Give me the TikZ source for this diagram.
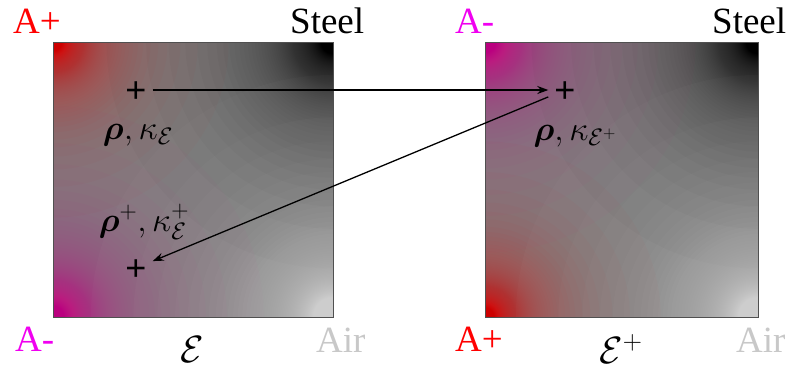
\RequirePackage{fix-cm}
\documentclass[tikz,border=0pt]{standalone}
\usepackage{amsmath,bm}
\usepackage{fontspec}
\setmainfont{Liberation Serif}
\newfontfamily\plusfont{Liberation Sans}
\usetikzlibrary{arrows.meta}

\definecolor{basegray}{RGB}{127,127,127}
\definecolor{edgegray}{RGB}{80,80,80}
\definecolor{labred}{RGB}{255,0,0}
\definecolor{labmag}{RGB}{240,0,240}
\definecolor{airgray}{RGB}{200,200,200}

% #1 corner point, #2 colour, #3 decay length (pt)
\newcommand\cornerglow[3]{%
  \foreach \k in {1,...,150}{%
    \pgfmathsetmacro\rr{-#3*ln(1-pow(0.98,\k))}%
    \fill[#2, fill opacity=0.02] #1 circle (\rr pt);
  }%
}

\tikzset{
  lab/.style={inner sep=0pt, anchor=base west, font=\fontsize{37}{40}\selectfont},
  mathlab/.style={inner sep=0pt, font=\fontsize{34}{36}\selectfont},
  setlab/.style={inner sep=0pt, font=\fontsize{38}{40}\selectfont},
  plusmark/.style={inner sep=6pt, text height=9pt, text depth=9pt, font=\plusfont\fontsize{36}{36}\selectfont},
  arr/.style={-{Stealth[length=11pt,width=8pt]}, line width=1.3pt},
  boxline/.style={draw=edgegray, line width=1pt}
}

\begin{document}
\begin{tikzpicture}[x=1pt,y=-1pt]
\useasboundingbox (0,0) rectangle (791,368);

% left square
\begin{scope}
  \clip (53,42) rectangle (333,317);
  \fill[basegray] (53,42) rectangle (333,317);
  \cornerglow{(53,42)}{labred}{45}
  \cornerglow{(53,317)}{magenta}{54}
  \cornerglow{(333,42)}{black}{58}
  \cornerglow{(333,317)}{white}{62}
\end{scope}
\draw[boxline] (53,42) rectangle (333,317);

% right square
\begin{scope}
  \clip (485,42) rectangle (758,317);
  \fill[basegray] (485,42) rectangle (758,317);
  \cornerglow{(485,42)}{magenta}{54}
  \cornerglow{(485,317)}{labred}{45}
  \cornerglow{(758,42)}{black}{58}
  \cornerglow{(758,317)}{white}{62}
\end{scope}
\draw[boxline] (485,42) rectangle (758,317);

% labels
\node[lab, text=labred] (ap1) at (13,33) {A+};
\node[lab] (st1) at (290,33) {Steel};
\node[lab, text=labmag] (am1) at (15,351) {A-};
\node[lab, text=airgray] (air1) at (316,352) {Air};
\node[setlab] (e1) at (192,350) {$\mathcal{E}$};

\node[lab, text=labmag] (am2) at (455,33) {A-};
\node[lab] (st2) at (712,33) {Steel};
\node[lab, text=labred] (ap2) at (455,351) {A+};
\node[lab, text=airgray] (air2) at (736,352) {Air};
\node[setlab] (e2) at (621,349) {$\mathcal{E}^{+}$};

% math labels
\node[mathlab] (l1) at (138,135) {$\bm{\rho},\kappa_{\mathcal{E}}$};
\node[mathlab] (l2) at (144,222) {$\bm{\rho}^{+},\kappa_{\mathcal{E}}^{+}$};
\node[mathlab] (l3) at (575,136) {$\bm{\rho},\kappa_{\mathcal{E}^{+}}$};

% markers
\node[plusmark] (p1) at (136,90) {\raisebox{-12.5pt}{+}};
\node[plusmark] (p2) at (565,90) {\raisebox{-12.5pt}{+}};
\node[plusmark] (p3) at (136,268) {\raisebox{-12.5pt}{+}};

\draw[arr] (p1) -- (p2);
\draw[arr] (p2) -- (p3);
\end{tikzpicture}
\end{document}
